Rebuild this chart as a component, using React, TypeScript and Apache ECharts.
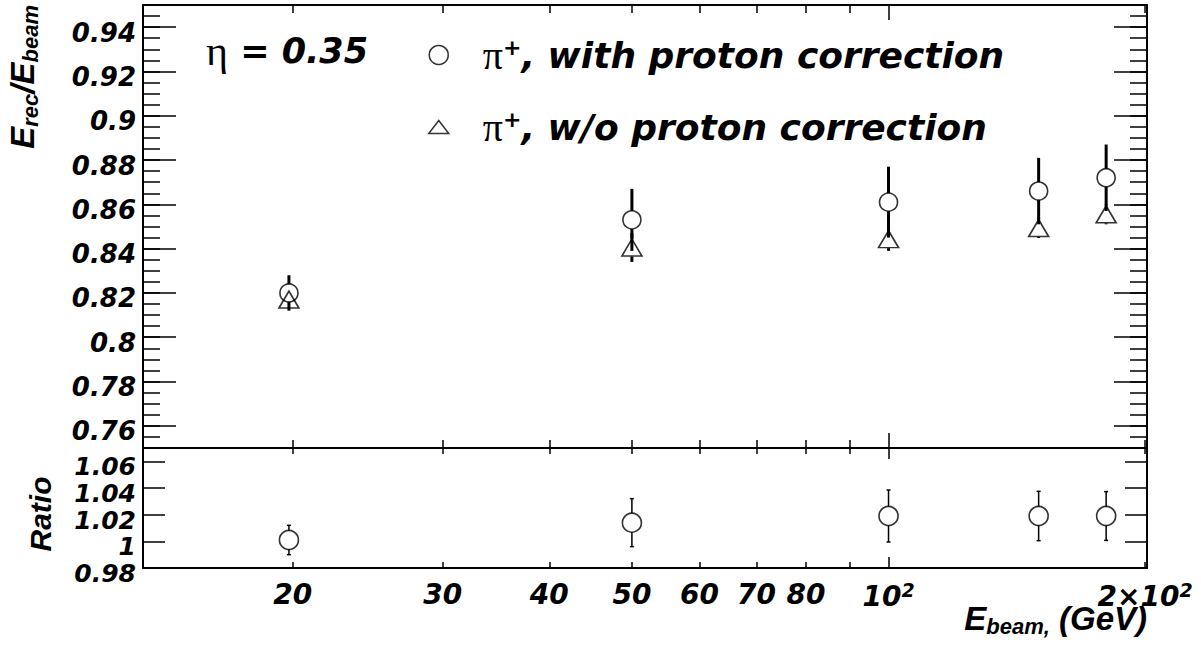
import React, { useEffect, useRef } from 'react';
import * as echarts from 'echarts';

// ---- data ----
const energies = [19.8, 50, 100, 150, 180];
const withCorr = [0.820, 0.853, 0.861, 0.866, 0.872];
const withCorrErr = [0.008, 0.014, 0.016, 0.015, 0.015];
const woCorr = [0.817, 0.8405, 0.8443, 0.8493, 0.8555];
const woCorrErr = [0.004, 0.0065, 0.0053, 0.0045, 0.0045];
const ratio = [1.001, 1.014, 1.019, 1.019, 1.019];
const ratioErr = [0.011, 0.018, 0.0195, 0.0185, 0.0183];

// ---- axes ----
const xRange = [13.35, 201];
const xMinorTicks = [20, 30, 40, 50, 60, 70, 80, 90, 200];
const xMajorTicks = [100];
const xLabelTicks = [20, 30, 40, 50, 60, 70, 80, 100, 200];
const yTopRange = [0.75, 0.95];
const yTopTicks = [0.76, 0.78, 0.8, 0.82, 0.84, 0.86, 0.88, 0.9, 0.92, 0.94];
const yTopMinorTicks = Array.from({ length: 39 }, (_, i) => +(0.755 + i * 0.005).toFixed(3));
const yRatioRange = [0.98, 1.07];
const yRatioTicks = [0.98, 1.0, 1.02, 1.04, 1.06];

const LBL = 'Liberation Sans, Arial, sans-serif';
const WIDE = 'DejaVu Sans, Verdana, sans-serif';
const SERIF = 'Liberation Serif, Times New Roman, serif';
const lg = (v: number) => Math.log10(v);

function errorBars(xi: number, yi: number, ys: number[], errs: number[], gap: number, width: number, cap: number) {
  return {
    type: 'custom',
    xAxisIndex: xi,
    yAxisIndex: yi,
    silent: true,
    z: 1,
    data: energies.map((e, i) => [lg(e), ys[i], ys[i] - errs[i], ys[i] + errs[i]]),
    encode: { x: 0, y: [1, 2, 3] },
    renderItem: (params: any, api: any) => {
      const x = api.value(0);
      const c = api.coord([x, api.value(1)]);
      const lo = api.coord([x, api.value(2)]);
      const hi = api.coord([x, api.value(3)]);
      const style = { stroke: '#000', lineWidth: width };
      const children: any[] = [];
      if (c[1] - gap > hi[1]) children.push({ type: 'line', shape: { x1: c[0], y1: c[1] - gap, x2: c[0], y2: hi[1] }, style });
      if (c[1] + gap < lo[1]) children.push({ type: 'line', shape: { x1: c[0], y1: c[1] + gap, x2: c[0], y2: lo[1] }, style });
      if (cap > 0) {
        children.push({ type: 'line', shape: { x1: c[0] - cap, y1: hi[1], x2: c[0] + cap, y2: hi[1] }, style: { stroke: '#000', lineWidth: 1.5 } });
        children.push({ type: 'line', shape: { x1: c[0] - cap, y1: lo[1], x2: c[0] + cap, y2: lo[1] }, style: { stroke: '#000', lineWidth: 1.5 } });
      }
      return { type: 'group', children };
    },
  };
}

const axisLineOn = { show: true, onZero: false, lineStyle: { color: '#000', width: 2 } };
const axisLineOff = { show: false, onZero: false };

function xAxisDef(grid: number, position: string, ticks: number[], len: number, line: boolean, labels: boolean) {
  const base = { fontFamily: WIDE, fontWeight: 'bold', fontStyle: 'italic', color: '#000' };
  return {
    type: 'value',
    gridIndex: grid,
    position,
    min: lg(xRange[0]),
    max: lg(xRange[1]),
    axisLine: line ? axisLineOn : axisLineOff,
    axisTick: { show: true, inside: true, length: len, customValues: ticks.map(lg), lineStyle: { color: '#000', width: 1.5 } },
    splitLine: { show: false },
    axisLabel: labels
      ? {
          show: true,
          customValues: xLabelTicks.map(lg),
          showMinLabel: true,
          showMaxLabel: true,
          hideOverlap: false,
          margin: 12,
          ...base,
          fontSize: 28,
          formatter: (v: number) => {
            const e = Math.round(Math.pow(10, v));
            if (e === 100) return '{n|10}{sup|2}';
            if (e === 200) return '{n|2×10}{sup|2}';
            return '{n|' + e + '}';
          },
          rich: {
            n: { ...base, fontSize: 28 },
            sup: { ...base, fontSize: 19, padding: [0, 0, 14, 0] },
          },
        }
      : { show: false },
  };
}

function yAxisDef(grid: number, position: string, range: number[], ticks: number[], len: number, line: boolean, labels: boolean, fs: number) {
  const base = { fontFamily: WIDE, fontWeight: 'bold', fontStyle: 'italic', color: '#000', fontSize: fs };
  return {
    type: 'value',
    gridIndex: grid,
    position,
    min: range[0],
    max: range[1],
    axisLine: line ? axisLineOn : axisLineOff,
    axisTick: { show: true, inside: true, length: len, customValues: ticks, lineStyle: { color: '#000', width: 1.5 } },
    splitLine: { show: false },
    axisLabel: labels
      ? {
          show: true,
          customValues: ticks,
          showMinLabel: true,
          showMaxLabel: true,
          hideOverlap: false,
          margin: 7,
          ...base,
          formatter: (v: number) => '{v|' + String(parseFloat(Number(v).toFixed(2))) + '}',
          rich: { v: { ...base, padding: [11, 0, 0, 0] } },
        }
      : { show: false },
  };
}

export default function App() {
  const ref = useRef<HTMLDivElement>(null);
  useEffect(() => {
    if (!ref.current) return;
    const chart = echarts.init(ref.current, undefined, { renderer: 'svg' });
    const markerStyle = { color: 'rgba(0,0,0,0)', borderColor: '#000', borderWidth: 1.6 };
    const legendText = { fontFamily: WIDE, fontWeight: 'bold', fontStyle: 'italic', fontSize: 36, color: '#000' };
    const option: any = {
      animation: false,
      backgroundColor: '#fff',
      grid: [
        { left: 143, right: 54, top: 5, height: 443 },
        { left: 143, right: 54, top: 448, height: 120 },
      ],
      xAxis: [
        xAxisDef(0, 'bottom', xMinorTicks, 8, true, false),
        xAxisDef(0, 'bottom', xMajorTicks, 15, false, false),
        xAxisDef(0, 'top', xMinorTicks, 8, true, false),
        xAxisDef(0, 'top', xMajorTicks, 15, false, false),
        xAxisDef(1, 'bottom', xMinorTicks, 6, true, true),
        xAxisDef(1, 'bottom', xMajorTicks, 11, false, false),
        xAxisDef(1, 'top', xMinorTicks, 6, true, false),
        xAxisDef(1, 'top', xMajorTicks, 11, false, false),
      ],
      yAxis: [
        yAxisDef(0, 'left', yTopRange, yTopTicks, 33, true, true, 26),
        yAxisDef(0, 'left', yTopRange, yTopMinorTicks, 17, false, false, 26),
        yAxisDef(0, 'right', yTopRange, yTopTicks, 33, true, false, 26),
        yAxisDef(0, 'right', yTopRange, yTopMinorTicks, 17, false, false, 26),
        yAxisDef(1, 'left', yRatioRange, yRatioTicks, 22, true, true, 25),
        yAxisDef(1, 'right', yRatioRange, yRatioTicks, 22, true, false, 25),
      ],
      legend: {
        orient: 'vertical',
        left: 423,
        top: 27,
        itemWidth: 20,
        itemHeight: 19,
        itemGap: 26,
        data: [
          { name: 'π+, with proton correction', icon: 'circle' },
          { name: 'π+, w/o proton correction', icon: 'path://M10,0 L20,13 L0,13 Z' },
        ],
        itemStyle: { color: 'rgba(0,0,0,0)', borderColor: '#000', borderWidth: 1.5 },
        formatter: (name: string) => {
          const rest = name.replace('π+', '');
          return `{pi|π}{sup|+}{t|${rest}}`;
        },
        textStyle: {
          color: '#000',
          padding: [0, 0, 0, 29],
          lineHeight: 46,
          rich: {
            pi: { fontFamily: SERIF, fontSize: 40, color: '#000' },
            sup: { fontFamily: WIDE, fontWeight: 'bold', fontSize: 22, color: '#000', padding: [0, 0, 16, 0] },
            t: legendText,
          },
        },
      },
      graphic: [
        {
          type: 'text',
          x: 206,
          y: 51,
          style: {
            text: '{eta|η}{t| = 0.35}',
            verticalAlign: 'middle',
            rich: {
              eta: { fontFamily: SERIF, fontSize: 42, fill: '#000' },
              t: { fontFamily: WIDE, fontWeight: 'bold', fontStyle: 'italic', fontSize: 35, fill: '#000' },
            },
          },
        },
        {
          type: 'text',
          x: 22,
          y: 5,
          rotation: Math.PI / 2,
          style: {
            text: '{e|E}{s|rec}{e|/E}{s|beam}',
            align: 'right',
            verticalAlign: 'middle',
            rich: {
              e: { fontFamily: LBL, fontWeight: 'bold', fontStyle: 'italic', fontSize: 33, fill: '#000' },
              s: { fontFamily: LBL, fontWeight: 'bold', fontStyle: 'italic', fontSize: 22, fill: '#000', padding: [16, 0, 0, 0] },
            },
          },
        },
        {
          type: 'text',
          x: 40,
          y: 514,
          rotation: Math.PI / 2,
          style: {
            text: 'Ratio',
            align: 'center',
            verticalAlign: 'middle',
            fontFamily: LBL,
            fontWeight: 'bold',
            fontStyle: 'italic',
            fontSize: 30,
            fill: '#000',
          },
        },
        {
          type: 'text',
          x: 1147,
          y: 618,
          style: {
            text: '{e|E}{s|beam,}{e| (GeV)}',
            align: 'right',
            verticalAlign: 'middle',
            rich: {
              e: { fontFamily: LBL, fontWeight: 'bold', fontStyle: 'italic', fontSize: 33, fill: '#000' },
              s: { fontFamily: LBL, fontWeight: 'bold', fontStyle: 'italic', fontSize: 22, fill: '#000', padding: [16, 0, 0, 0] },
            },
          },
        },
      ],
      series: [
        errorBars(0, 0, withCorr, withCorrErr, 9, 3, 0),
        errorBars(0, 0, woCorr, woCorrErr, 9, 3, 0),
        {
          name: 'π+, with proton correction',
          type: 'scatter',
          xAxisIndex: 0,
          yAxisIndex: 0,
          symbol: 'circle',
          symbolSize: 18,
          itemStyle: markerStyle,
          z: 3,
          data: energies.map((e, i) => [lg(e), withCorr[i]]),
        },
        {
          name: 'π+, w/o proton correction',
          type: 'scatter',
          xAxisIndex: 0,
          yAxisIndex: 0,
          symbol: 'triangle',
          symbolSize: [20, 17],
          itemStyle: markerStyle,
          z: 3,
          data: energies.map((e, i) => [lg(e), woCorr[i]]),
        },
        errorBars(4, 4, ratio, ratioErr, 9.5, 1.5, 2),
        {
          name: 'ratio',
          type: 'scatter',
          xAxisIndex: 4,
          yAxisIndex: 4,
          symbol: 'circle',
          symbolSize: 19,
          itemStyle: markerStyle,
          z: 3,
          data: energies.map((e, i) => [lg(e), ratio[i]]),
        },
      ],
    };
    chart.setOption(option);
    return () => chart.dispose();
  }, []);
  return <div ref={ref} style={{ position: 'absolute', left: 0, top: 0, width: 1201, height: 650, background: '#fff' }} />;
}
